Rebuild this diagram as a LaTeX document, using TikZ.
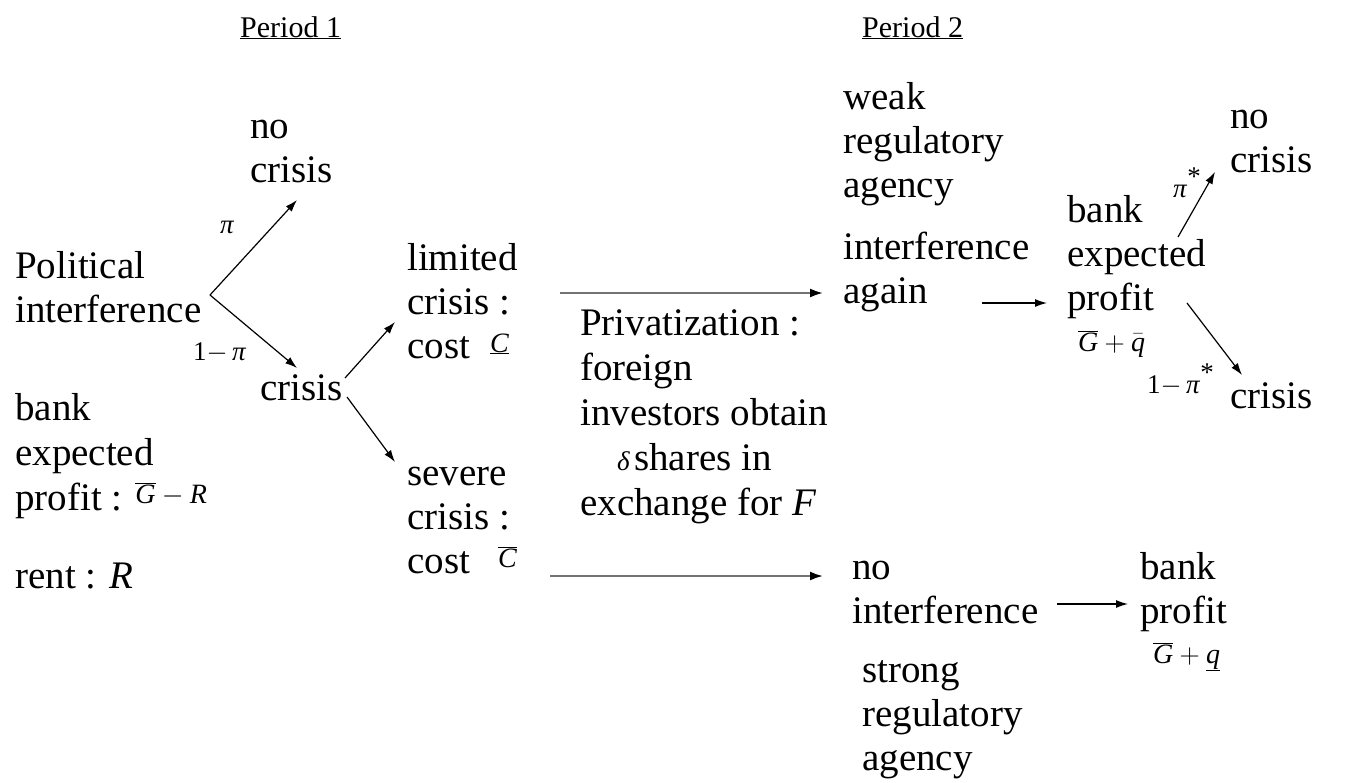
\RequirePackage{fix-cm}
\documentclass[tikz,border=0pt]{standalone}
\usepackage{fontspec}
\setmainfont{Liberation Serif}
\usetikzlibrary{arrows.meta}
\newcommand{\mG}{\overline{\mbox{\textit{G}}}}
\begin{document}
\begin{tikzpicture}[x=1pt,y=-1pt,
  txt/.style={inner sep=0pt, anchor=base west, align=left, font=\fontsize{39}{44}\selectfont},
  lbl/.style={inner sep=0pt, anchor=base west, font=\fontsize{27}{29}\selectfont},
  fml/.style={inner sep=0pt, anchor=base west, font=\fontsize{28}{30}\selectfont},
  hdr/.style={inner sep=0pt, anchor=base west, font=\fontsize{30}{32}\selectfont},
  arr/.style={-{Latex[length=12pt,width=8pt]}, line width=1.2pt},
  longarr/.style={-{Latex[length=13pt,width=9pt,color=black]}, draw=black!55, line width=2pt}
]
\useasboundingbox (0,0) rectangle (1349,782);
\fill[white] (0,0) rectangle (1349,782);

% headers
\node[hdr] (p1) at (240,37) {\underline{Period 1}};
\node[hdr] (p2) at (862,37) {\underline{Period 2}};

% period 1 nodes (anchor = baseline of last line)
\node[txt] (nc1) at (250,182) {no\\crisis};
\node[txt] (pol) at (15,322) {Political\\interference};
\node[txt, font=\fontsize{39}{45}\selectfont] (bep) at (15,510) {bank\\expected\\profit : \raisebox{7pt}{\fontsize{28}{30}\selectfont$\mG-\mbox{\textit{R}}$}};
\node[txt] (rent) at (15,588) {rent : \textit{R}};
\node[txt] (cr1) at (260,400) {crisis};
\node[txt] (lim) at (407,358) {limited\\crisis :\\cost\hspace*{20pt}\raisebox{6pt}{\fontsize{28}{30}\selectfont$\underline{\mbox{\textit{C}}}$}};
\node[txt] (sev) at (407,573) {severe\\crisis :\\cost\hspace*{28pt}\raisebox{6pt}{\fontsize{28}{30}\selectfont$\overline{\mbox{\textit{C}}}$}};
\node[txt, font=\fontsize{39}{45}\selectfont] (priv) at (580,515) {Privatization :\\foreign\\investors obtain\\\hspace*{37pt}{\fontsize{27}{29}\selectfont\textit{δ}}\hspace*{4pt}shares in\\exchange for \textit{F}};

% period 2 nodes
\node[txt] (weak) at (843,197) {weak\\regulatory\\agency};
\node[txt] (ia) at (843,303) {interference\\again};
\node[txt] (bep2) at (1067,310) {bank\\expected\\profit};
\node[fml] (f2) at (1078,351) {$\mG+\bar{\mbox{\textit{q}}}$};
\node[txt] (nc2) at (1230,172) {no\\crisis};
\node[txt] (cr2) at (1230,408) {crisis};
\node[txt] (ni) at (852,623) {no\\interference};
\node[txt] (strong) at (862,770) {strong\\regulatory\\agency};
\node[txt] (bp) at (1140,623) {bank\\profit};
\node[fml] (f3) at (1153,663) {$\mG+\underline{\mbox{\textit{q}}}$};

% probability labels
\node[lbl] (l1) at (220,233) {\textit{π}};
\node[lbl] (l2) at (193,360) {1$-$\,\textit{π}};
\node[lbl] (l3) at (1173,197) {\textit{π}\raisebox{12pt}{*}};
\node[lbl] (l4) at (1147,393) {1$-$\,\textit{π}\raisebox{12pt}{*}};

% connector end points
\coordinate (pol-out) at (210,295);
\coordinate (nc1-in) at (297,200);
\coordinate (cr1-in) at (297,368);
\coordinate (cr1-up) at (345,378);
\coordinate (lim-in) at (395,322);
\coordinate (cr1-dn) at (347,397);
\coordinate (sev-in) at (395,462);
\coordinate (lim-out) at (560,293);
\coordinate (ia-in) at (823,293);
\coordinate (sev-out) at (550,576);
\coordinate (ni-in) at (823,576);
\coordinate (ia-out) at (982,303);
\coordinate (bep2-in) at (1047,303);
\coordinate (bep2-up) at (1178,237);
\coordinate (nc2-in) at (1215,172);
\coordinate (bep2-dn) at (1187,303);
\coordinate (cr2-in) at (1242,375);
\coordinate (ni-out) at (1057,604);
\coordinate (bp-in) at (1128,604);

% connectors
\draw[arr] (pol-out) -- (nc1-in);
\draw[arr] (pol-out) -- (cr1-in);
\draw[arr] (cr1-up) -- (lim-in);
\draw[arr] (cr1-dn) -- (sev-in);
\draw[longarr] (lim-out) -- (ia-in);
\draw[longarr] (sev-out) -- (ni-in);
\draw[arr] (ia-out) -- (bep2-in);
\draw[arr] (bep2-up) -- (nc2-in);
\draw[arr] (bep2-dn) -- (cr2-in);
\draw[arr] (ni-out) -- (bp-in);
\end{tikzpicture}
\end{document}
